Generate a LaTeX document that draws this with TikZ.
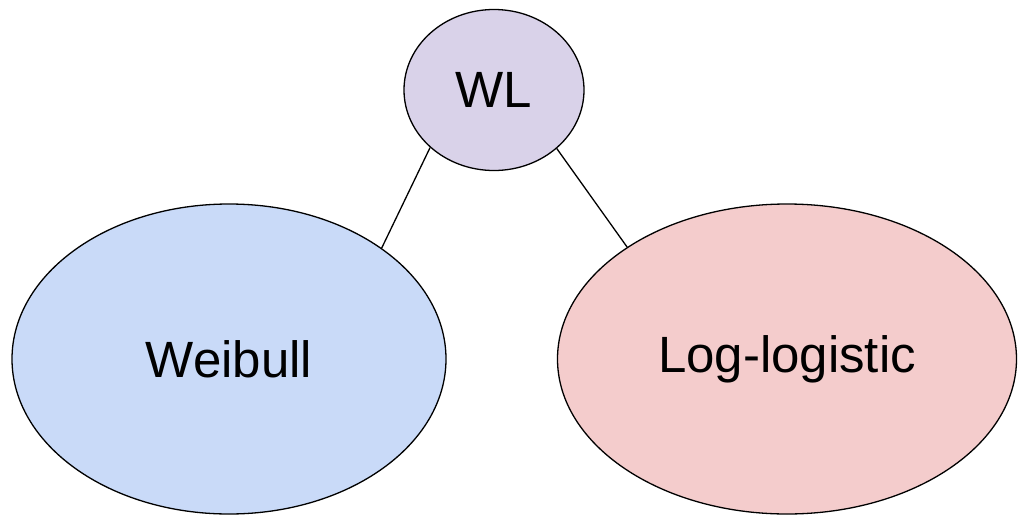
\documentclass[tikz,border=0pt]{standalone}
\usepackage{fontspec}
\setmainfont{Liberation Sans}
\usetikzlibrary{shapes.geometric}
\definecolor{wlpurple}{HTML}{D9D2E9}
\definecolor{weibullblue}{HTML}{C9DAF8}
\definecolor{loglogred}{HTML}{F4CCCC}

\begin{document}
\begin{tikzpicture}[x=1pt, y=-1pt,
    dist/.style={draw, ellipse, line width=1.3pt, inner sep=0pt, font=\fontsize{51}{61}\selectfont},
    link/.style={line width=1.3pt}
]
\useasboundingbox (0,0) rectangle (1018,517);
\node[dist, fill=wlpurple, minimum width=180pt, minimum height=161pt] (wl) at (494,90) {WL};
\node[dist, fill=weibullblue, minimum width=434pt, minimum height=310pt] (weibull) at (229,359) {Weibull};
\node[dist, fill=loglogred, minimum width=459pt, minimum height=310pt] (loglog) at (787,359) {Log-logistic};
\draw[link] (wl.222) -- (weibull.36);
\draw[link] (wl.317) -- (loglog.145);
\end{tikzpicture}
\end{document}
